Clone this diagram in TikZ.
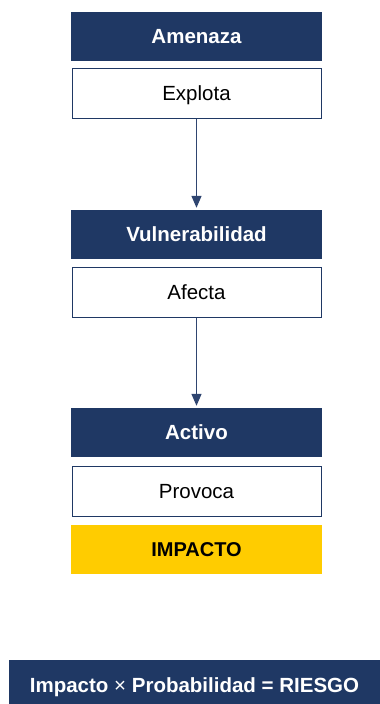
\documentclass[tikz,border=0pt]{standalone}
\usepackage{fontspec}
\setmainfont{Liberation Sans}
\usetikzlibrary{arrows.meta}
\definecolor{navy}{HTML}{1F3864}
\definecolor{gold}{HTML}{FFCC00}
\definecolor{arrowc}{HTML}{2F4570}
\begin{document}
\begin{tikzpicture}[x=1pt,y=-1pt,
  base/.style={inner sep=0pt,text height=14.6pt,text depth=0pt},
  hdr/.style={base,fill=navy,text=white,font=\fontsize{20.5}{24}\selectfont\bfseries,minimum width=251pt,minimum height=49pt},
  act/.style={base,draw=navy,line width=1pt,fill=white,text=black,font=\fontsize{20.5}{24}\selectfont,minimum width=249pt,minimum height=50pt},
  res/.style={base,fill=gold,text=black,font=\fontsize{20}{24}\selectfont\bfseries,minimum width=251pt,minimum height=49pt},
  conn/.style={draw=arrowc,line width=1.3pt,-{Triangle[length=12pt,width=10pt]},shorten >=2pt}]
\useasboundingbox (0,0) rectangle (380,704);
\node[hdr] (n1) at (196.5,36.5) {Amenaza};
\node[act] (w1) at (196.5,93.5) {Explota};
\node[hdr] (n2) at (196.5,234.5) {Vulnerabilidad};
\node[act] (w2) at (196.5,292.5) {Afecta};
\node[hdr] (n3) at (196.5,432.5) {Activo};
\node[act] (w3) at (196.5,491.5) {Provoca};
\node[res] (im) at (196.5,549) {IMPACTO};
\node[hdr,minimum width=371pt,minimum height=51pt] (bar) at (194.5,685.5) {Impacto {\mdseries ×} Probabilidad = RIESGO};
\draw[conn] (w1.south) -- (n2.north);
\draw[conn] (w2.south) -- (n3.north);
\end{tikzpicture}
\end{document}
